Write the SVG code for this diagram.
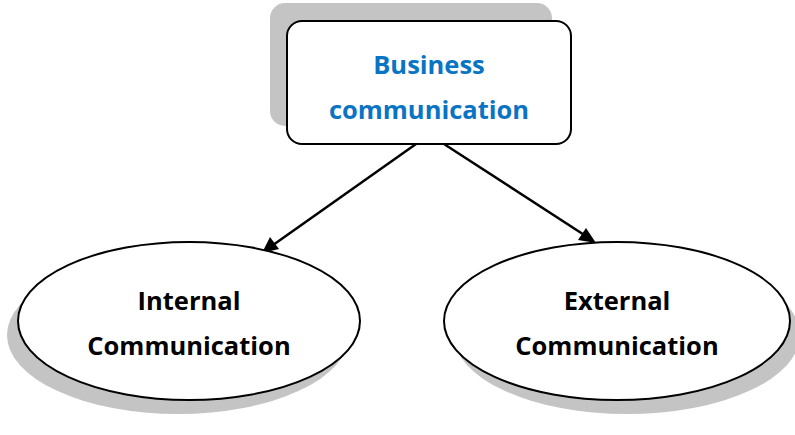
<svg xmlns="http://www.w3.org/2000/svg" width="795" height="435" viewBox="0 0 795 435">
<defs>
<style>
.shadow{fill:#c4c4c4;stroke:none}
.node{fill:#fff;stroke:#000;stroke-width:2}
.t{font-family:"Open Sans","Liberation Sans",sans-serif;font-weight:bold;font-size:25.5px;text-anchor:middle;fill:#000}
.blue{fill:#0a74c4}
.edge{stroke:#000;stroke-width:2.5;fill:none}
</style>
</defs>
<rect width="795" height="435" fill="#fff"/>
<g id="connectors">
<line class="edge" x1="416" y1="144" x2="266" y2="250"/>
<line class="edge" x1="444" y1="144" x2="592" y2="240"/>
<path d="M262,253 L270,237 L279,249 z" fill="#000"/>
<path d="M596,243 L578,240 L586,228 z" fill="#000"/>
</g>
<g id="business">
<rect class="shadow" x="270" y="3" width="282" height="123" rx="15"/>
<rect class="node" x="287" y="21" width="284" height="123" rx="15"/>
<text class="t blue" x="429" y="74">Business</text>
<text class="t blue" x="429" y="119">communication</text>
</g>
<g id="internal">
<ellipse class="shadow" cx="178" cy="335" rx="171" ry="79"/>
<ellipse class="node" cx="189" cy="321" rx="171" ry="79"/>
<text class="t" x="189" y="310">Internal</text>
<text class="t" x="189" y="355">Communication</text>
</g>
<g id="external">
<ellipse class="shadow" cx="627" cy="335" rx="173" ry="79"/>
<ellipse class="node" cx="617" cy="321" rx="173" ry="79"/>
<text class="t" x="617" y="310">External</text>
<text class="t" x="617" y="355">Communication</text>
</g>
</svg>
